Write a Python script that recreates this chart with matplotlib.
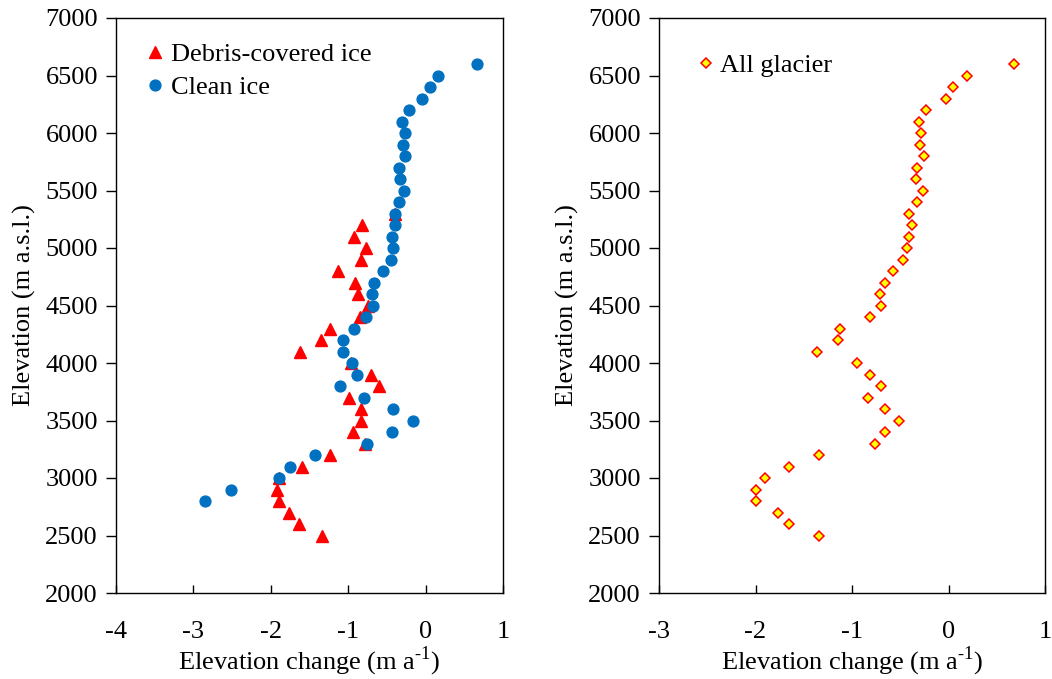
import matplotlib
matplotlib.use("Agg")
import matplotlib.pyplot as plt

# ---------------- data ----------------
debris_elev = [2500, 2600, 2700, 2800, 2900, 3000, 3100, 3200, 3300, 3400,
               3500, 3600, 3700, 3800, 3900, 4000, 4100, 4200, 4300, 4400,
               4500, 4600, 4700, 4800, 4900, 5000, 5100, 5200, 5300]
debris_dh = [-1.34, -1.64, -1.77, -1.90, -1.92, -1.89, -1.60, -1.24, -0.78, -0.94,
             -0.84, -0.84, -0.99, -0.60, -0.71, -0.96, -1.62, -1.35, -1.24, -0.85,
             -0.74, -0.87, -0.91, -1.13, -0.84, -0.77, -0.93, -0.82, -0.40]

clean_elev = [2800, 2900, 3000, 3100, 3200, 3300, 3400, 3500, 3600, 3700,
              3800, 3900, 4000, 4100, 4200, 4300, 4400, 4500, 4600, 4700,
              4800, 4900, 5000, 5100, 5200, 5300, 5400, 5500, 5600, 5700,
              5800, 5900, 6000, 6100, 6200, 6300, 6400, 6500, 6600]
clean_dh = [-2.85, -2.51, -1.89, -1.75, -1.43, -0.76, -0.44, -0.16, -0.42, -0.79,
            -1.11, -0.88, -0.95, -1.07, -1.07, -0.93, -0.77, -0.68, -0.69, -0.67,
            -0.55, -0.45, -0.42, -0.43, -0.39, -0.40, -0.34, -0.28, -0.33, -0.34,
            -0.26, -0.29, -0.27, -0.31, -0.21, -0.05, 0.06, 0.16, 0.66]

all_elev = [2500, 2600, 2700, 2800, 2900, 3000, 3100, 3200, 3300, 3400,
            3500, 3600, 3700, 3800, 3900, 4000, 4100, 4200, 4300, 4400,
            4500, 4600, 4700, 4800, 4900, 5000, 5100, 5200, 5300, 5400,
            5500, 5600, 5700, 5800, 5900, 6000, 6100, 6200, 6300, 6400,
            6500, 6600]
all_dh = [-1.34, -1.65, -1.77, -1.99, -1.99, -1.90, -1.65, -1.34, -0.76, -0.66,
          -0.51, -0.66, -0.83, -0.70, -0.81, -0.95, -1.36, -1.14, -1.12, -0.81,
          -0.70, -0.71, -0.66, -0.57, -0.47, -0.43, -0.41, -0.38, -0.41, -0.33,
          -0.26, -0.34, -0.33, -0.25, -0.30, -0.28, -0.31, -0.23, -0.03, 0.05,
          0.19, 0.68]

left_xticks = [-4, -3, -2, -1, 0, 1]
right_xticks = [-3, -2, -1, 0, 1]
yticks = [2000, 2500, 3000, 3500, 4000, 4500, 5000, 5500, 6000, 6500, 7000]

xlabel = "Elevation change (m a$^{\\text{-1}}$)"
ylabel = "Elevation (m a.s.l.)"

# ---------------- style ----------------
plt.rcParams['font.family'] = ['Liberation Serif', 'DejaVu Serif']
plt.rcParams['mathtext.fontset'] = 'custom'
plt.rcParams['mathtext.rm'] = 'Liberation Serif'
plt.rcParams['axes.unicode_minus'] = False

FS = 19
fig = plt.figure(figsize=(10.52, 6.79), dpi=100)
ax1 = fig.add_axes([116 / 1052, 1 - 593 / 679, 387 / 1052, 575 / 679])
ax2 = fig.add_axes([659 / 1052, 1 - 593 / 679, 386 / 1052, 575 / 679])

ax1.plot(debris_dh, debris_elev, linestyle='none', marker='^', markersize=8,
         color='#FF0000', label='Debris-covered ice')
ax1.plot(clean_dh, clean_elev, linestyle='none', marker='o', markersize=7.8,
         color='#0070C0', label='Clean ice')

ax2.plot(all_dh, all_elev, linestyle='none', marker='D', markersize=5.4,
         markerfacecolor='#FFFF00', markeredgecolor='#FF0000',
         markeredgewidth=1.1, label='All glacier')

for ax, xt in ((ax1, left_xticks), (ax2, right_xticks)):
    ax.set_xlim(xt[0], xt[-1])
    ax.set_ylim(2000, 7000)
    ax.set_xticks(xt)
    ax.set_yticks(yticks)
    ax.tick_params(axis='x', direction='in', length=6, width=1, labelsize=FS, pad=20)
    ax.tick_params(axis='y', direction='out', length=7, width=1, labelsize=FS, pad=6)
    for s in ax.spines.values():
        s.set_linewidth(1.0)
        s.set_color('black')
    ax.set_xlabel(xlabel, fontsize=FS, labelpad=1)
    ax.set_ylabel(ylabel, fontsize=FS, labelpad=7)

ax1.legend(loc='upper left', bbox_to_anchor=(0.04, 0.985), frameon=False,
           fontsize=FS, handlelength=0.6, handletextpad=0.3, labelspacing=0.38,
           borderaxespad=0.2)
ax2.legend(loc='upper left', bbox_to_anchor=(0.06, 0.965), frameon=False,
           fontsize=FS, handlelength=0.6, handletextpad=0.25,
           borderaxespad=0.2)

fig.savefig('out.png', dpi=100)
